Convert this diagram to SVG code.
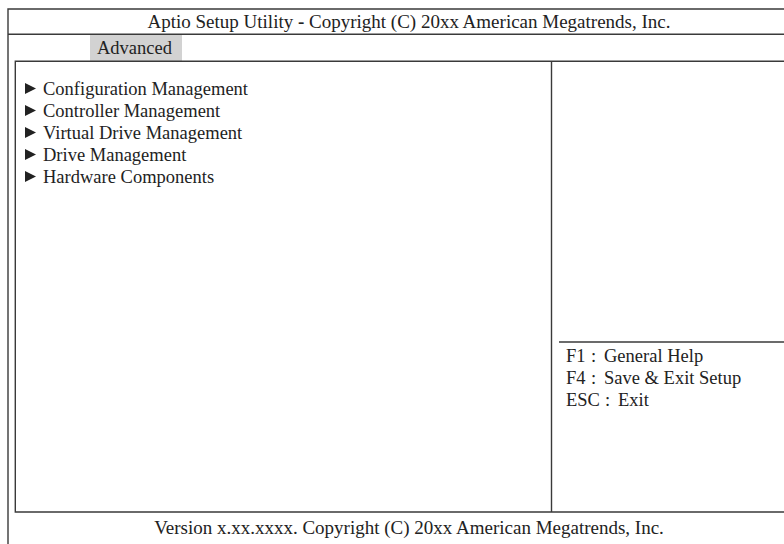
<svg xmlns="http://www.w3.org/2000/svg" width="784" height="544" viewBox="0 0 784 544">
<style>
.ln{stroke:#3a3a3a;stroke-width:1.4;fill:none}
.t{font-family:"Liberation Serif","Times New Roman",serif;font-size:18.5px;fill:#222}
.big{font-size:19px}
.tri{fill:#222}
</style>
<rect width="784" height="544" fill="#ffffff"/>
<g id="frame">
<polyline class="ln" points="784,9 8,9 8,544"/>
<line class="ln" x1="8" y1="34.3" x2="784" y2="34.3"/>
</g>
<g id="title"><text class="t big" x="409" y="27.5" text-anchor="middle">Aptio Setup Utility <tspan font-weight="bold">-</tspan> Copyright (C) 20xx American Megatrends, Inc.</text></g>
<g id="tab-advanced">
<rect x="90" y="35" width="92" height="26" fill="#d2d2d2"/>
<text class="t" x="97" y="54">Advanced</text>
</g>
<g id="main-panel">
<polyline class="ln" points="784,61.3 15.3,61.3 15.3,512 784,512"/>
<line class="ln" x1="551.5" y1="61.3" x2="551.5" y2="512"/>
</g>
<g id="menu">
<g id="item-config"><polygon class="tri" points="25,83 36,88.5 25,94"/><text class="t" x="43" y="94.5">Configuration Management</text></g>
<g id="item-controller"><polygon class="tri" points="25,105 36,110.5 25,116"/><text class="t" x="43" y="116.5">Controller Management</text></g>
<g id="item-vd"><polygon class="tri" points="25,127 36,132.5 25,138"/><text class="t" x="43" y="138.5">Virtual Drive Management</text></g>
<g id="item-drive"><polygon class="tri" points="25,149 36,154.5 25,160"/><text class="t" x="43" y="160.5">Drive Management</text></g>
<g id="item-hw"><polygon class="tri" points="25,171 36,176.5 25,182"/><text class="t" x="43" y="182.5">Hardware Components</text></g>
</g>
<g id="help">
<line class="ln" x1="559" y1="342" x2="784" y2="342"/>
<text class="t" y="362"><tspan x="566">F1</tspan><tspan x="591">:</tspan><tspan x="604">General Help</tspan></text>
<text class="t" y="384"><tspan x="566">F4</tspan><tspan x="591">:</tspan><tspan x="604">Save &amp; Exit Setup</tspan></text>
<text class="t" y="406"><tspan x="566">ESC</tspan><tspan x="605">:</tspan><tspan x="618">Exit</tspan></text>
</g>
<g id="footer"><text class="t big" x="409" y="533.5" text-anchor="middle">Version x.xx.xxxx. Copyright (C) 20xx American Megatrends, Inc.</text></g>
</svg>
